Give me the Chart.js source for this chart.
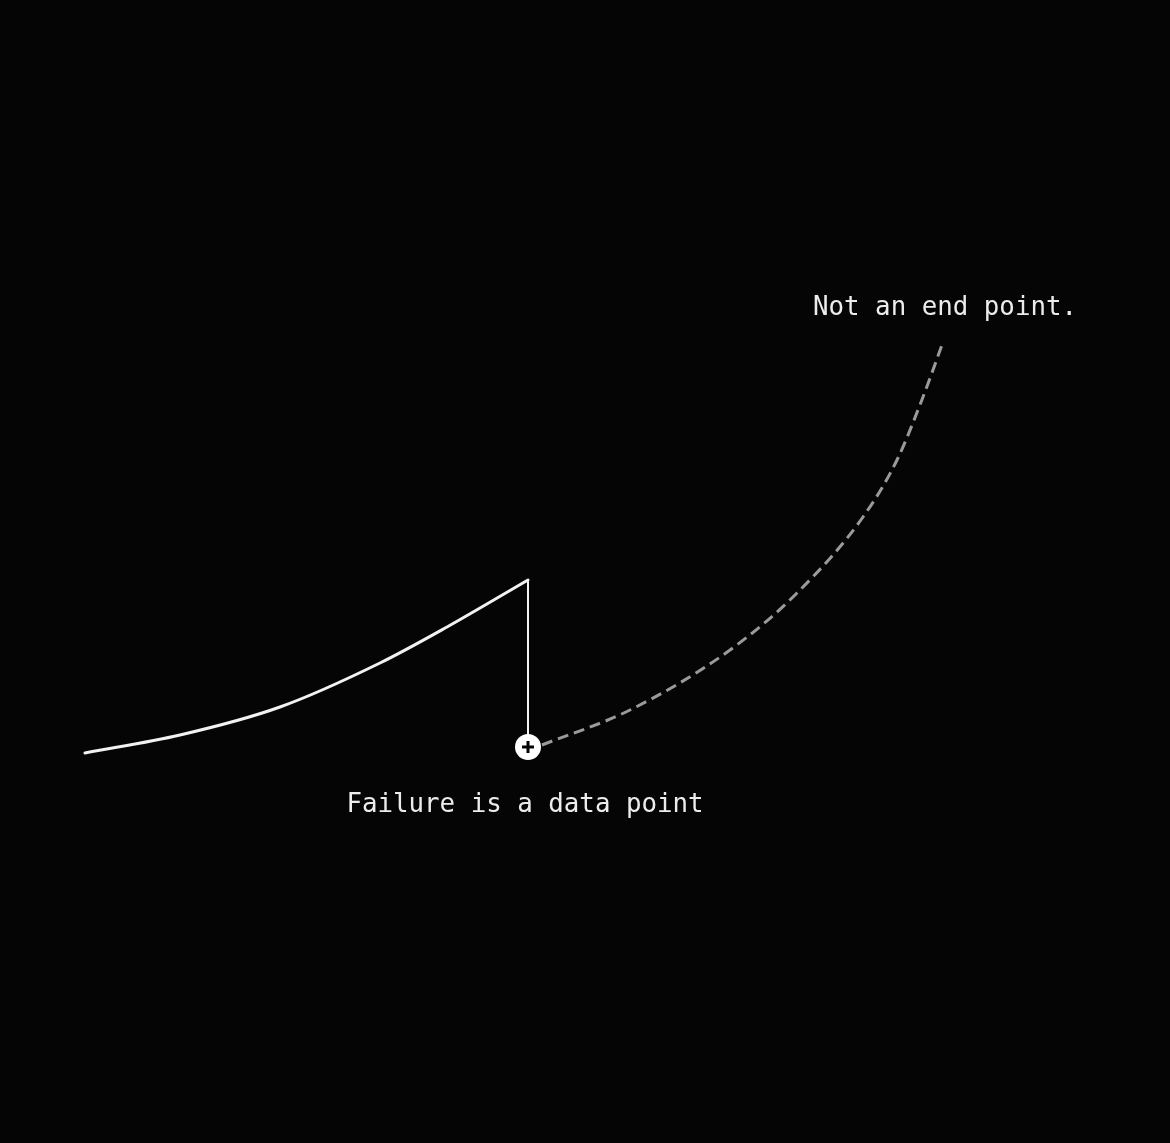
<!DOCTYPE html>
<html>
<head>
<meta charset="utf-8">
<script src="https://cdn.jsdelivr.net/npm/chart.js"></script>
<style>
    html, body { margin: 0; padding: 0; background: #050505; }
    #wrap { width: 1170px; height: 1143px; position: relative; }
</style>
</head>
<body>
<div id="wrap"><canvas id="chart"></canvas></div>
<script>
// progress path (x = effort, y = progress)
const climbX = [85, 180, 280, 380, 447, 528];
const climbY = [390, 408, 436, 480, 516, 563];

const dropX = [528, 528];
const dropY = [563, 396];

const reboundX = [542, 630, 730, 797, 863, 897, 923, 943];
const reboundY = [398, 433, 493, 550, 626, 683, 746, 801];

const failureLabel = 'Failure is a data point';
const endLabel = 'Not an end point.';

function toPoints(xs, ys) {
    return xs.map(function (x, i) { return { x: x, y: ys[i] }; });
}

const failurePoint = { x: dropX[1], y: dropY[1] };
const endPoint = { x: reboundX[reboundX.length - 1], y: reboundY[reboundY.length - 1] };

const backgroundPlugin = {
    id: 'bg',
    beforeDraw: function (chart) {
        const c = chart.ctx;
        c.save();
        c.fillStyle = '#050505';
        c.fillRect(0, 0, chart.width, chart.height);
        c.restore();
    }
};

const labelPlugin = {
    id: 'labels',
    afterDraw: function (chart) {
        const c = chart.ctx;
        const sx = chart.scales.x, sy = chart.scales.y;
        c.save();
        c.font = "25.8px 'DejaVu Sans Mono', monospace";
        c.fillStyle = '#ececec';
        c.textAlign = 'center';
        c.textBaseline = 'middle';
        c.fillText(failureLabel, sx.getPixelForValue(failurePoint.x) - 3, sy.getPixelForValue(failurePoint.y) + 58);
        c.fillText(endLabel, sx.getPixelForValue(endPoint.x) + 2, sy.getPixelForValue(endPoint.y) - 34);
        c.restore();
    }
};

new Chart(document.getElementById('chart'), {
    type: 'line',
    data: {
        datasets: [
            {
                // plus sign on the marker
                data: [failurePoint],
                showLine: false,
                pointStyle: 'cross',
                pointRadius: 6,
                pointBorderWidth: 3,
                pointBorderColor: '#050505',
                order: 0
            },
            {
                data: [failurePoint],
                showLine: false,
                pointStyle: 'circle',
                pointRadius: 13,
                pointBackgroundColor: '#ffffff',
                pointBorderColor: '#ffffff',
                pointBorderWidth: 0,
                order: 1
            },
            {
                data: toPoints(climbX, climbY),
                borderColor: '#f2f2f2',
                borderWidth: 3,
                pointRadius: 0,
                cubicInterpolationMode: 'monotone',
                borderCapStyle: 'round',
                order: 3
            },
            {
                data: toPoints(dropX, dropY),
                borderColor: '#f2f2f2',
                borderWidth: 2,
                pointRadius: 0,
                tension: 0,
                order: 3
            },
            {
                data: toPoints(reboundX, reboundY),
                borderColor: '#9a9a9a',
                borderWidth: 3,
                borderDash: [11, 6],
                pointRadius: 0,
                cubicInterpolationMode: 'monotone',
                order: 2
            }
        ]
    },
    options: {
        responsive: true,
        maintainAspectRatio: false,
        animation: false,
        layout: { padding: 0, autoPadding: false },
        plugins: {
            legend: { display: false },
            tooltip: { enabled: false }
        },
        scales: {
            x: { type: 'linear', min: 0, max: 1170, display: false },
            y: { type: 'linear', min: 0, max: 1143, display: false }
        }
    },
    plugins: [backgroundPlugin, labelPlugin]
});
</script>
</body>
</html>
